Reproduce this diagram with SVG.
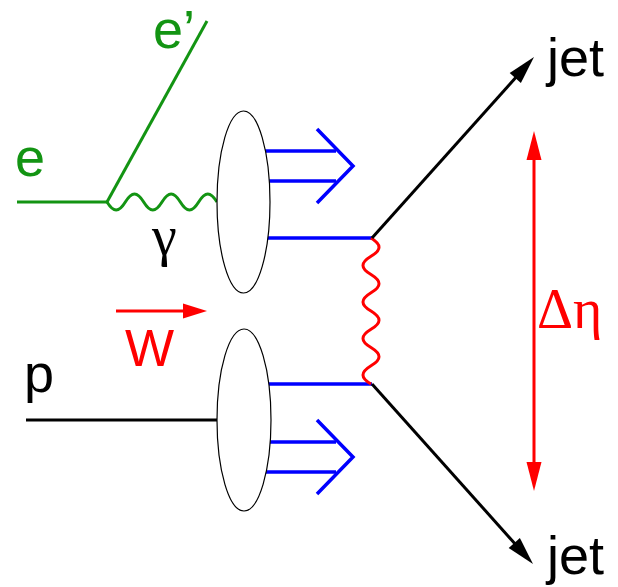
<svg xmlns="http://www.w3.org/2000/svg" width="618" height="587" viewBox="0 0 618 587">
<style>
.lbl{font-family:"Liberation Sans",Arial,sans-serif;font-size:54px}
.grk{font-family:"Liberation Serif","Times New Roman",serif;font-size:56px}
.g{stroke:#139413;stroke-width:3;fill:none}
.b{stroke:#0000ff;stroke-width:3.5;fill:none}
.k{stroke:#000;stroke-width:3;fill:none}
.r{stroke:#ff0000;stroke-width:3;fill:none}
</style>
<rect width="618" height="587" fill="#fff"/>
<g id="connectors">
  <!-- electron lines -->
  <line class="g" x1="17" y1="202" x2="108" y2="202"/>
  <line class="g" x1="107" y1="202" x2="207" y2="21"/>
  <!-- photon -->
  <path class="g" d="M107,202 c6.6,10.7 11.73,10.7 18.33,0 c6.6,-10.7 11.73,-10.7 18.33,0 c6.6,10.7 11.73,10.7 18.33,0 c6.6,-10.7 11.73,-10.7 18.33,0 c6.6,10.7 11.73,10.7 18.33,0 c6.6,-10.7 11.73,-10.7 18.33,0"/>
  <!-- proton line -->
  <line class="k" x1="26" y1="420" x2="230" y2="420"/>
  <!-- upper remnant arrow -->
  <line class="b" x1="255" y1="151" x2="336" y2="151"/>
  <line class="b" x1="255" y1="181" x2="336" y2="181"/>
  <polyline class="b" points="317,129 353,166 317,203"/>
  <!-- lower remnant arrow -->
  <line class="b" x1="255" y1="442" x2="336" y2="442"/>
  <line class="b" x1="255" y1="472" x2="336" y2="472"/>
  <polyline class="b" points="317,420 353,457 317,494"/>
  <!-- partons -->
  <line class="b" x1="255" y1="238" x2="372" y2="238"/>
  <line class="b" x1="255" y1="384" x2="372" y2="384"/>
  <!-- exchanged gluon -->
  <path class="r" d="M371,238 c10.7,6.57 10.7,11.68 0,18.25 c-10.7,6.57 -10.7,11.68 0,18.25 c10.7,6.57 10.7,11.68 0,18.25 c-10.7,6.57 -10.7,11.68 0,18.25 c10.7,6.57 10.7,11.68 0,18.25 c-10.7,6.57 -10.7,11.68 0,18.25 c10.7,6.57 10.7,11.68 0,18.25 c-10.7,6.57 -10.7,11.68 0,18.25"/>
  <!-- jets -->
  <line class="k" x1="372" y1="238" x2="518" y2="75"/>
  <polygon fill="#000" points="534,57 520.9,82.9 509.7,72.9"/>
  <line class="k" x1="372" y1="384" x2="517" y2="546"/>
  <polygon fill="#000" points="533,564 508.7,548.1 519.9,538.1"/>
  <!-- delta eta -->
  <line class="r" x1="534" y1="156" x2="534" y2="466"/>
  <polygon fill="#ff0000" points="534,131 526.5,160 541.5,160"/>
  <polygon fill="#ff0000" points="534,491 526.5,462 541.5,462"/>
  <!-- W arrow -->
  <line class="r" x1="116" y1="311" x2="186" y2="311"/>
  <polygon fill="#ff0000" points="207,311 183,303.5 183,318.5"/>
</g>
<g id="blob-photon">
  <ellipse cx="243.5" cy="202" rx="26.5" ry="91" fill="#fff" stroke="#000" stroke-width="1.2"/>
</g>
<g id="blob-proton">
  <ellipse cx="244" cy="420" rx="27" ry="91" fill="#fff" stroke="#000" stroke-width="1.2"/>
</g>
<g id="labels">
  <text class="lbl" x="15" y="176" fill="#139413">e</text>
  <text class="lbl" x="153" y="48" fill="#139413">e’</text>
  <text class="grk" x="152" y="255" fill="#000">γ</text>
  <text class="lbl" x="24" y="392" fill="#000">p</text>
  <text class="lbl" x="125" y="366" fill="#ff0000" style="font-size:52px">W</text>
  <text class="lbl" x="547" y="76" fill="#000">jet</text>
  <text class="lbl" x="547" y="574" fill="#000">jet</text>
  <text class="grk" x="537" y="328" fill="#ff0000">Δη</text>
</g>
</svg>
